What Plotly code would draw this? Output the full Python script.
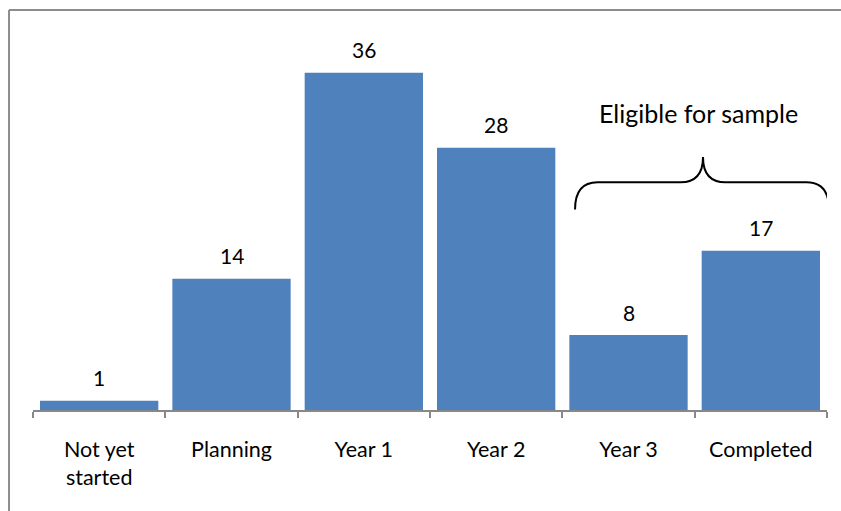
import plotly.graph_objects as go

categories = ["Not yet<br>started", "Planning", "Year 1", "Year 2", "Year 3", "Completed"]
values = [1, 14, 36, 28, 8, 17]
bracket_label = "Eligible for sample"

FONT = "Lato"
BAR_COLOR = "#4F81BD"
AXIS_COLOR = "#888888"

fig = go.Figure()
fig.add_trace(go.Bar(x=categories, y=values, marker=dict(color=BAR_COLOR, line=dict(width=0)),
                     hoverinfo="skip"))

# value labels above bars
for c, v in zip(categories, values):
    fig.add_annotation(x=c, y=v, text=str(v), showarrow=False, yanchor="middle", yshift=23,
                       font=dict(family=FONT, size=21, color="#000000"))

# hidden linear overlay axis for the brace
fig.add_trace(go.Scatter(x=[-0.5, 5.5], y=[0, 0], xaxis="x2", mode="lines",
                         line=dict(width=0), hoverinfo="skip", showlegend=False))

xl, xt, xr = 3.596, 4.563, 5.515
yb, ym, yt = 21.4, 24.3, 27.0
r = 0.17
path = (f"M {xl},{yb} Q {xl},{ym} {xl + r},{ym} L {xt - r},{ym} Q {xt},{ym} {xt},{yt} "
        f"Q {xt},{ym} {xt + r},{ym} L {xr - r},{ym} Q {xr},{ym} {xr},{yb}")
fig.add_shape(type="path", path=path, xref="x2", yref="y", line=dict(color="#000000", width=2))
fig.add_annotation(x=4.53, y=31.7, xref="x2", yref="y", text=bracket_label, showarrow=False,
                   font=dict(family=FONT, size=25, color="#000000"))

# chart border (top and left)
fig.add_shape(type="line", xref="paper", yref="paper", x0=-0.0302, x1=-0.0302, y0=-0.26, y1=1.0,
              line=dict(color="#8c8c8c", width=2))
fig.add_shape(type="line", xref="paper", yref="paper", x0=-0.0302, x1=1.03, y0=1.0, y1=1.0,
              line=dict(color="#8c8c8c", width=2))

fig.update_layout(
    width=841, height=511,
    margin=dict(l=33, r=14, t=10, b=101),
    plot_bgcolor="white", paper_bgcolor="white",
    showlegend=False,
    bargap=0.106,
    font=dict(family=FONT, size=21, color="#000000"),
    xaxis=dict(type="category", showline=True, linecolor=AXIS_COLOR, linewidth=1.5,
               ticks="outside", tickson="boundaries", ticklen=6, tickcolor=AXIS_COLOR,
               tickwidth=1.5, ticklabelstandoff=19, showgrid=False,
               tickfont=dict(family=FONT, size=21.5, color="#000000")),
    xaxis2=dict(overlaying="x", range=[-0.5, 5.5], visible=False, fixedrange=True),
    yaxis=dict(range=[0, 42.7], visible=False, showgrid=False, zeroline=False),
)

fig.write_html("out.html")
